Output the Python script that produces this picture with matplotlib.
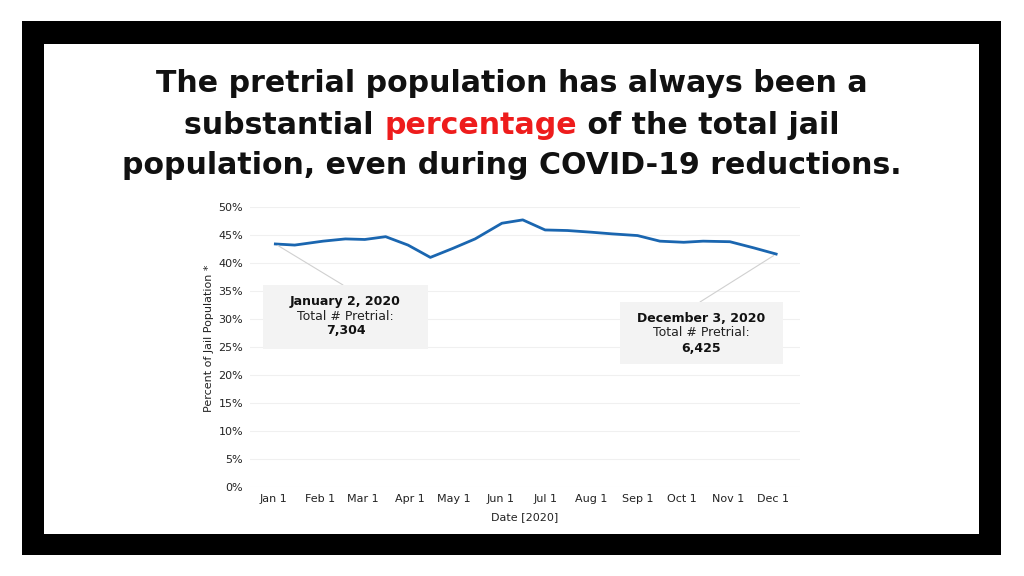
import matplotlib
matplotlib.use("Agg")
import matplotlib.pyplot as plt
from matplotlib.patches import Rectangle
import datetime as dt

# data (semi-monthly points, % of jail population pretrial)
dates = ["2020-01-02", "2020-01-15", "2020-02-03", "2020-02-18", "2020-03-02",
         "2020-03-16", "2020-03-31", "2020-04-15", "2020-04-30", "2020-05-15",
         "2020-06-02", "2020-06-16", "2020-07-01", "2020-07-16", "2020-08-01",
         "2020-08-15", "2020-09-01", "2020-09-16", "2020-10-02", "2020-10-15",
         "2020-11-02", "2020-11-18", "2020-12-03"]
pct_pretrial = [43.4, 43.2, 43.9, 44.3, 44.2, 44.7, 43.2, 41.0, 42.6, 44.3,
                47.1, 47.7, 45.9, 45.8, 45.5, 45.2, 44.9, 43.9, 43.7, 43.9,
                43.8, 42.7, 41.6]
month_ticks = ["2020-%02d-01" % m for m in range(1, 13)]
month_labels = ["Jan 1", "Feb 1", "Mar 1", "Apr 1", "May 1", "Jun 1",
                "Jul 1", "Aug 1", "Sep 1", "Oct 1", "Nov 1", "Dec 1"]
y_ticks = [0, 5, 10, 15, 20, 25, 30, 35, 40, 45, 50]

notes = [("2020-01-02", "January 2, 2020", "7,304"),
         ("2020-12-03", "December 3, 2020", "6,425")]

d = [dt.datetime.strptime(s, "%Y-%m-%d") for s in dates]
W, H = 1024, 576
fig = plt.figure(figsize=(W / 100, H / 100), dpi=100)
fig.patch.set_facecolor("white")

# black frame
fig.add_artist(Rectangle((22 / W, 21 / H), 979 / W, 534 / H, transform=fig.transFigure,
                         fc="black", ec="none", zorder=0))
fig.add_artist(Rectangle((44 / W, 42 / H), 935 / W, 490 / H, transform=fig.transFigure,
                         fc="white", ec="none", zorder=0))

ax = fig.add_axes([250 / W, (H - 487) / H, 550 / W, 280 / H])
ax.set_facecolor("none")
ax.plot(d, pct_pretrial, color="#1a66b0", lw=2, solid_joinstyle="round", zorder=3)
ax.set_ylim(0, 50)
ax.set_xlim(dt.datetime(2019, 12, 16), dt.datetime(2020, 12, 19))
ax.set_yticks(y_ticks)
ax.set_yticklabels([f"{v}%" for v in y_ticks])
ax.set_xticks([dt.datetime.strptime(s, "%Y-%m-%d") for s in month_ticks])
ax.set_xticklabels(month_labels)
ax.tick_params(length=0, labelsize=8, colors="#222222")
ax.tick_params(axis="y", pad=5)
ax.tick_params(axis="x", pad=5)
for s in ax.spines.values():
    s.set_visible(False)
ax.grid(axis="y", color="#f0f0f0", lw=0.8)
ax.set_ylabel("Percent of Jail Population *", fontsize=8, color="#222222")
ax.yaxis.set_label_coords(-0.066, 0.53)
ax.set_xlabel("Date [2020]", fontsize=8, color="#222222")
ax.xaxis.set_label_coords(0.5, -0.09)

# annotation boxes (pixel positions, top-left origin)
boxes = [(263, 285, 165, 64, 343), (620, 302, 163, 62, 700)]
for (ds, head, num), (bx, by, bw, bh, lx) in zip(notes, boxes):
    i = dates.index(ds)
    fig.add_artist(Rectangle((bx / W, (H - by - bh) / H), bw / W, bh / H,
                             transform=fig.transFigure, fc="#f3f3f3", ec="none", zorder=1))
    ax.annotate("", xy=(d[i], pct_pretrial[i]), xytext=(lx, H - by),
                textcoords="figure pixels",
                arrowprops=dict(arrowstyle="-", color="#d0d0d0", lw=0.8,
                                shrinkA=0, shrinkB=2))
    cx = bx + bw / 2
    fig.text(cx / W, (H - by - 16) / H, head, ha="center", va="center",
             fontsize=9, fontweight="bold", color="#111111")
    fig.text(cx / W, (H - by - 31) / H, "Total # Pretrial:", ha="center", va="center",
             fontsize=9, color="#222222")
    fig.text(cx / W, (H - by - 46) / H, num, ha="center", va="center",
             fontsize=9, fontweight="bold", color="#111111")

# title with a red word in the middle line; size fitted to the reference width
r = fig.canvas.get_renderer()
tkw = dict(fontweight="bold", family="DejaVu Sans", va="center")
t1 = fig.text(0.5, (H - 83) / H, "The pretrial population has always been a",
              ha="center", color="#111111", fontsize=20, **tkw)
size = 20 * 712 / t1.get_window_extent(r).width
t1.set_fontsize(size)
fig.text(0.5, (H - 165) / H, "population, even during COVID-19 reductions.",
         ha="center", color="#111111", fontsize=size, **tkw)
parts = [("substantial ", "#111111"), ("percentage", "#ee1c1c"),
         (" of the total jail", "#111111")]
objs = [fig.text(0, (H - 125) / H, t, color=c, ha="left", fontsize=size, **tkw)
        for t, c in parts]
widths = [o.get_window_extent(r).width for o in objs]
x = (W - sum(widths)) / 2
for o, w in zip(objs, widths):
    o.set_x(x / W)
    x += w

fig.savefig("out.png", dpi=100)
